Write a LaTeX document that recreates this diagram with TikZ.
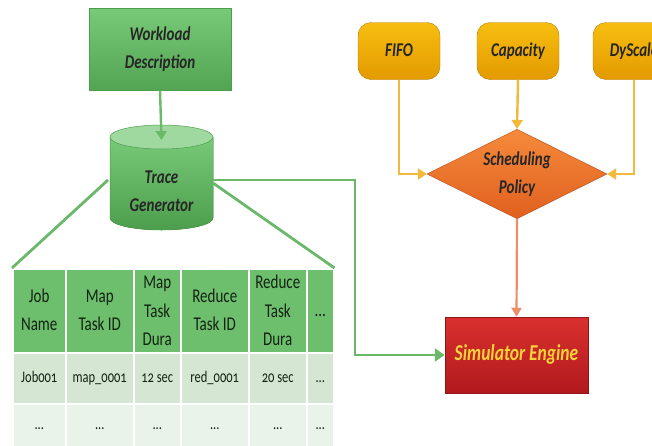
\documentclass[tikz,border=0pt]{standalone}
\usepackage{fontspec}
\setmainfont{Carlito}
\newfontfamily\tabfont[Numbers=OldStyle]{Carlito}
\usetikzlibrary{shapes.geometric,arrows.meta}
\newcommand\vt[1]{\scalebox{1}[1.3]{\begin{tabular}{@{}c@{}}#1\end{tabular}}}
\definecolor{gtop}{HTML}{78C978}
\definecolor{gbot}{HTML}{4C9E4C}
\definecolor{gline}{HTML}{6BB86B}
\definecolor{ytop}{HTML}{F7BE10}
\definecolor{ybot}{HTML}{E39A00}
\definecolor{yline}{HTML}{F2B93A}
\definecolor{otop}{HTML}{F58A3C}
\definecolor{obot}{HTML}{E0601E}
\definecolor{oline}{HTML}{EE8E68}
\definecolor{rtop}{HTML}{D9302E}
\definecolor{rbot}{HTML}{B11A1E}
\definecolor{stext}{HTML}{F8D23A}
\definecolor{hdr}{HTML}{6DBE6D}
\definecolor{rowa}{HTML}{D5E6D3}
\definecolor{rowb}{HTML}{EAF3E9}
\definecolor{ttxt}{HTML}{142414}
\tikzset{
  lbl/.style={font=\fontsize{15}{21.5}\selectfont\bfseries\itshape, align=center},
  greenbox/.style={lbl, draw=gbot, line width=0.6pt, top color=gtop, bottom color=gbot!85!gtop, text=black!85},
  yelbox/.style={lbl, draw=ybot!80!black, line width=0.4pt, rounded corners=13pt, top color=ytop, bottom color=ybot, text=black!85, minimum width=82pt, minimum height=57pt, inner sep=0pt},
  gconn/.style={draw=gline, line width=2.8pt},
  garrow/.style={gconn, -{Triangle[length=10pt,width=13pt]}},
  yarrow/.style={draw=yline, line width=2.4pt, -{Triangle[length=9pt,width=11pt]}},
  oarrow/.style={draw=oline, line width=2.2pt, -{Triangle[length=9pt,width=10pt]}},
  cell/.style={draw=white, line width=1.5pt, inner sep=0pt, anchor=north west, text=ttxt, align=center, font=\tabfont\fontsize{15}{22}\selectfont},
  hcell/.style={cell, fill=hdr},
  acell/.style={cell, fill=rowa, font=\tabfont\fontsize{12.5}{16}\selectfont},
  bcell/.style={cell, fill=rowb, font=\tabfont\fontsize{12.5}{16}\selectfont},
}
\begin{document}
\begin{tikzpicture}[x=1pt,y=-1pt]
\useasboundingbox (0,0) rectangle (652,445);
\begin{scope}
\clip (0,0) rectangle (652,445);
% Workload description
\node[greenbox, minimum width=142pt, minimum height=82pt, inner sep=0pt] (wd) at (160,49) {\vt{Workload\\Description}};
% cylinder
\fill[top color=gtop, bottom color=gbot] (110,137) -- (110,218) arc[start angle=180,end angle=360,x radius=51.5pt,y radius=12pt] -- (213,137) -- cycle;
\draw[gbot, line width=0.5pt] (110,137) -- (110,218) arc[start angle=180,end angle=360,x radius=51.5pt,y radius=12pt] -- (213,137);
\fill[gtop!70!white, draw=gbot, line width=0.5pt] (161.5,137) ellipse[x radius=51.5pt, y radius=12pt];
\node[lbl, text=black!85, minimum width=103pt, minimum height=86pt, inner sep=0pt] (tg) at (161.5,192) {\vt{Trace\\Generator}};
\coordinate (tgtop) at (161.5,140);
% table
\node[hcell, minimum width=53pt, minimum height=84pt] (h1) at (12,268) {\vt{Job\\Name}};
\node[hcell, minimum width=68pt, minimum height=84pt] (h2) at (65,268) {\vt{Map\\Task ID}};
\node[hcell, minimum width=47pt, minimum height=84pt] (h3) at (133,268) {\vt{Map\\Task\\Dura}};
\node[hcell, minimum width=68pt, minimum height=84pt] (h4) at (180,268) {\vt{Reduce\\Task ID}};
\node[hcell, minimum width=58pt, minimum height=84pt] (h5) at (248,268) {\vt{Reduce\\Task\\Dura}};
\node[hcell, minimum width=27pt, minimum height=84pt] (h6) at (306,268) {\vt{...}};
\node[acell, minimum width=53pt, minimum height=51pt] (a1) at (12,352) {\vt{Job001}};
\node[acell, minimum width=68pt, minimum height=51pt] (a2) at (65,352) {\vt{map\_0001}};
\node[acell, minimum width=47pt, minimum height=51pt] (a3) at (133,352) {\vt{12 sec}};
\node[acell, minimum width=68pt, minimum height=51pt] (a4) at (180,352) {\vt{red\_0001}};
\node[acell, minimum width=58pt, minimum height=51pt] (a5) at (248,352) {\vt{20 sec}};
\node[acell, minimum width=27pt, minimum height=51pt] (a6) at (306,352) {\vt{...}};
\node[bcell, minimum width=53pt, minimum height=44pt] (b1) at (12,403) {\vt{...}};
\node[bcell, minimum width=68pt, minimum height=44pt] (b2) at (65,403) {\vt{...}};
\node[bcell, minimum width=47pt, minimum height=44pt] (b3) at (133,403) {\vt{...}};
\node[bcell, minimum width=68pt, minimum height=44pt] (b4) at (180,403) {\vt{...}};
\node[bcell, minimum width=58pt, minimum height=44pt] (b5) at (248,403) {\vt{...}};
\node[bcell, minimum width=27pt, minimum height=44pt] (b6) at (306,403) {\vt{...}};
% scheduling side
\node[yelbox] (fifo) at (399,51) {\vt{FIFO}};
\node[yelbox] (cap) at (518,51) {\vt{Capacity}};
\node[yelbox] (dys) at (634,51) {\vt{DyScale}};
\node[diamond, draw=obot!80!black, line width=0.4pt, top color=otop, bottom color=obot, lbl, text=black!85, minimum width=180pt, minimum height=88pt, inner sep=0pt, aspect=2] (sp) at (517,174) {\vt{Scheduling\\Policy}};
\node[draw=rbot!80!black, line width=0.5pt, top color=rtop, bottom color=rbot, minimum width=143pt, minimum height=76pt, inner sep=0pt, text=stext, font=\fontsize{17.5}{20}\selectfont\bfseries\itshape] (se) at (516.5,355) {\vt{Simulator Engine}};
% connectors
\draw[draw=gline, line width=2.4pt, -{Triangle[length=9pt,width=11pt]}] (wd.south) -- (tgtop);
\draw[gconn] (108,180) -- (h1.north west);
\draw[gconn] (213,183) -- (h6.north east);
\coordinate (bend1) at (355,180);
\coordinate (bend2) at (355,355);
\draw[garrow] (213,180) -- (bend1) -- (bend2) -- (se.west);
\draw[yarrow] (fifo.south) |- (sp.west);
\draw[yarrow] (cap.south) -- (sp.north);
\draw[yarrow] (dys.south) |- (sp.east);
\draw[oarrow] (sp.south) -- (se.north);
\end{scope}
\end{tikzpicture}
\end{document}
